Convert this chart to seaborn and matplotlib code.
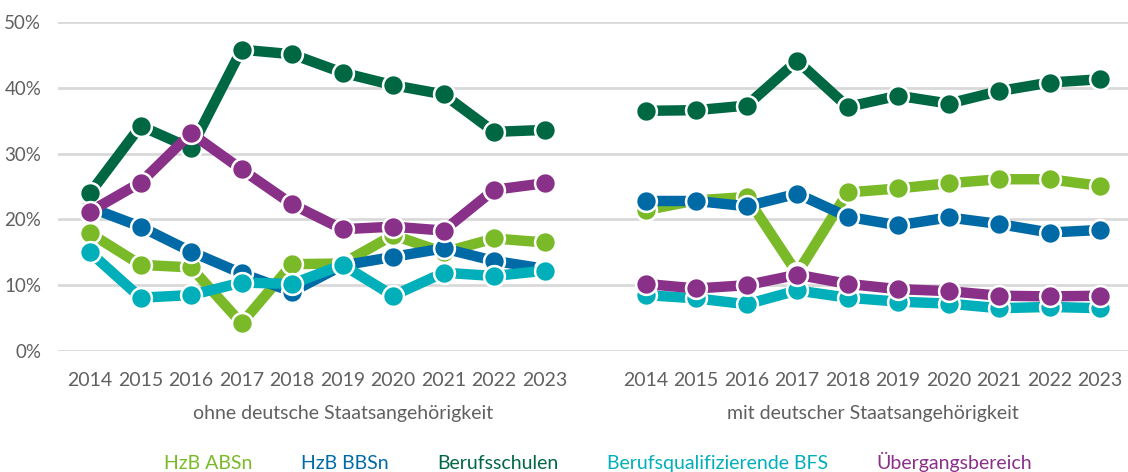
import pandas as pd
import matplotlib.pyplot as plt
import seaborn as sns
from matplotlib.ticker import FuncFormatter

# Daten (Anteile in %)
years = [2014, 2015, 2016, 2017, 2018, 2019, 2020, 2021, 2022, 2023]
groups = ["ohne deutsche Staatsangehörigkeit", "mit deutscher Staatsangehörigkeit"]
series = ["HzB ABSn", "HzB BBSn", "Berufsschulen", "Berufsqualifizierende BFS", "Übergangsbereich"]

hzb_absn_ohne = [17.9, 13.1, 12.7, 4.2, 13.2, 13.3, 17.6, 15.0, 17.1, 16.5]
hzb_bbsn_ohne = [21.8, 18.9, 15.1, 11.8, 9.0, 13.0, 14.3, 15.6, 13.7, 12.5]
berufsschulen_ohne = [24.0, 34.2, 30.8, 45.8, 45.1, 42.3, 40.4, 39.0, 33.3, 33.6]
bfs_ohne = [15.0, 8.1, 8.5, 10.4, 10.2, 13.1, 8.4, 11.9, 11.4, 12.2]
uebergang_ohne = [21.2, 25.6, 33.1, 27.6, 22.3, 18.5, 18.9, 18.3, 24.5, 25.5]

hzb_absn_mit = [21.4, 22.9, 23.4, 11.8, 24.1, 24.7, 25.5, 26.1, 26.1, 25.1]
hzb_bbsn_mit = [22.8, 22.8, 22.0, 23.9, 20.4, 19.1, 20.3, 19.3, 18.0, 18.4]
berufsschulen_mit = [36.5, 36.6, 37.3, 44.1, 37.1, 38.8, 37.6, 39.5, 40.8, 41.3]
bfs_mit = [8.5, 8.0, 7.1, 9.2, 8.1, 7.5, 7.2, 6.5, 6.7, 6.5]
uebergang_mit = [10.2, 9.5, 10.0, 11.6, 10.2, 9.4, 9.1, 8.4, 8.3, 8.4]

colors = ["#7aba28", "#006aa6", "#006743", "#00afb9", "#893089"]

werte = {
    groups[0]: [hzb_absn_ohne, hzb_bbsn_ohne, berufsschulen_ohne, bfs_ohne, uebergang_ohne],
    groups[1]: [hzb_absn_mit, hzb_bbsn_mit, berufsschulen_mit, bfs_mit, uebergang_mit],
}

# Long-Format mit Positionen (zweite Gruppe nach einer Lücke)
rows = []
for g_i, g in enumerate(groups):
    for s_i, s in enumerate(series):
        for y_i, y in enumerate(years):
            rows.append({"gruppe": g, "reihe": s, "jahr": y,
                         "pos": y_i + 11 * g_i, "wert": werte[g][s_i][y_i]})
df = pd.DataFrame(rows)

sns.set_style("white")
plt.rcParams['font.family'] = ['Lato', 'DejaVu Sans']
text_color = "#606060"
fs = 14

fig = plt.figure(figsize=(11.28, 4.72), dpi=100)
ax = fig.add_axes([58 / 1128, 1 - 351 / 472, 1070 / 1128, 329 / 472])

for g in groups:
    sns.lineplot(data=df[df["gruppe"] == g], x="pos", y="wert", hue="reihe",
                 hue_order=series, palette=colors, marker="o", markersize=15,
                 markeredgecolor="white", markeredgewidth=1.8, linewidth=7.5,
                 legend=False, ax=ax, clip_on=False)

ax.set_ylim(0, 50)
ax.set_xlim(-0.634, 20.55)
ax.set_yticks([0, 10, 20, 30, 40, 50])
ax.yaxis.set_major_formatter(FuncFormatter(lambda v, p: f"{v:.0f}%"))
ax.set_xticks(list(range(10)) + list(range(11, 21)))
ax.set_xticklabels([str(y) for y in years] * 2)
ax.tick_params(axis="both", length=0, labelsize=fs, colors=text_color)
ax.tick_params(axis="x", pad=15)
ax.tick_params(axis="y", pad=12, labelsize=13.5)
ax.grid(axis="y", color="#d9d9d9", linewidth=2)
ax.set_axisbelow(True)
for sp in ax.spines.values():
    sp.set_visible(False)
ax.set_xlabel("")
ax.set_ylabel("")

# Gruppentitel
trans = ax.get_xaxis_transform()
ax.text(5.0, -62 / 329, groups[0], transform=trans, ha="center", va="center",
        fontsize=fs, color=text_color)
ax.text(15.5, -62 / 329, groups[1], transform=trans, ha="center", va="center",
        fontsize=fs, color=text_color)

# Legende nur als farbiger Text
handles = [plt.Line2D([], [], color=c, alpha=0) for c in colors]
fig.legend(handles, series, loc="center", bbox_to_anchor=(598 / 1128, 1 - 462 / 472),
           ncol=5, frameon=False, handlelength=0, handletextpad=0,
           columnspacing=2.5, fontsize=fs, labelcolor=colors)

fig.savefig("out.png", dpi=100)
